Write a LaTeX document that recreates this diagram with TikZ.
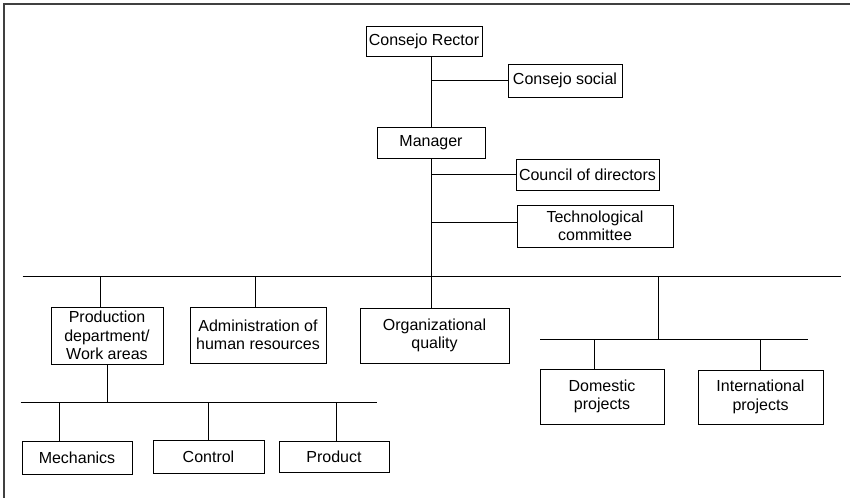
\documentclass[tikz,border=0pt]{standalone}
\usepackage{fontspec}
\setmainfont{Liberation Sans}

\begin{document}
\begin{tikzpicture}[x=1pt, y=-1pt,
    box/.style={draw, line width=0.8pt, inner sep=0pt, align=center,
        font=\fontsize{16}{18.5}\selectfont},
    link/.style={line width=0.8pt}]
        \useasboundingbox (0,0) rectangle (850,498);
        % ==== FRAME ====
        \draw[line width=1.4pt, black!75] (850,4) -- (4,4) -- (4,498);
        % ==== UPPER BOXES ====
        \node[box, minimum width=116pt, minimum height=30pt] (rector) at (424,41) {Consejo Rector};
        \node[box, minimum width=114pt, minimum height=33pt] (social) at (565,80.5) {Consejo social};
        \node[box, minimum width=108pt, minimum height=31pt] (mgr) at (431,142.5) {Manager};
        \node[box, minimum width=143pt, minimum height=31pt] (council) at (587.5,174.5) {Council of directors};
        \node[box, minimum width=156pt, minimum height=42pt] (tech) at (595,226) {Technological\\committee};
        % ==== DEPARTMENTS ====
        \node[box, minimum width=112pt, minimum height=57pt] (prod) at (107,335.5) {Production\\department/\\Work areas};
        \node[box, minimum width=136pt, minimum height=56pt] (admin) at (258,335) {Administration of\\human resources};
        \node[box, minimum width=149pt, minimum height=55pt] (org) at (434.5,335.5) {Organizational\\quality};
        \node[box, minimum width=124pt, minimum height=55pt] (dom) at (602,396.5) {Domestic\\projects};
        \node[box, minimum width=125pt, minimum height=54pt] (intl) at (760.5,397) {International\\projects};
        \node[box, minimum width=110pt, minimum height=33pt] (mech) at (77,457.5) {Mechanics};
        \node[box, minimum width=111pt, minimum height=33pt] (ctrl) at (208.5,456.5) {Control};
        \node[box, minimum width=110pt, minimum height=31pt] (prdct) at (334,456.5) {Product};
        % ==== BUS LINES ====
        \coordinate (busW) at (22.7,276);
        \coordinate (busE) at (840.7,276);
        \coordinate (tapR) at (658.3,276);
        \coordinate (subRW) at (540,339);
        \coordinate (subRE) at (808.3,339);
        \coordinate (subLW) at (20.7,402);
        \coordinate (subLE) at (377.3,402);
        \coordinate (prodTap) at ([xshift=-7pt]prod.north);
        \coordinate (adminTap) at ([xshift=-2.7pt]admin.north);
        \coordinate (domTap) at ([xshift=-7.3pt]dom.north);
        \coordinate (mechTap) at ([xshift=-18pt]mech.north);
        \coordinate (prdctTap) at ([xshift=2pt]prdct.north);
        \coordinate (techTap) at ([yshift=4pt]tech.west);
        \draw[link] (busW) -- (busE);
        \draw[link] (subRW) -- (subRE);
        \draw[link] (subLW) -- (subLE);
        % ==== CONNECTORS ====
        \draw[link] (rector.south -| mgr) -- (mgr.north);
        \draw[link] (social.west) -- (social.west -| mgr);
        \draw[link] (mgr.south) -- (mgr |- busW);
        \draw[link] (council.west) -- (council.west -| mgr);
        \draw[link] (techTap) -- (techTap -| mgr);
        \draw[link] (prodTap) -- (prodTap |- busW);
        \draw[link] (adminTap) -- (adminTap |- busW);
        \draw[link] (mgr |- busW) -- (mgr |- org.north);
        \draw[link] (tapR) -- (tapR |- subRW);
        \draw[link] (domTap) -- (domTap |- subRW);
        \draw[link] (intl.north) -- (intl.north |- subRW);
        \draw[link] (prod.south) -- (prod.south |- subLW);
        \draw[link] (mechTap) -- (mechTap |- subLW);
        \draw[link] (ctrl.north) -- (ctrl.north |- subLW);
        \draw[link] (prdctTap) -- (prdctTap |- subLW);
\end{tikzpicture}
\end{document}
